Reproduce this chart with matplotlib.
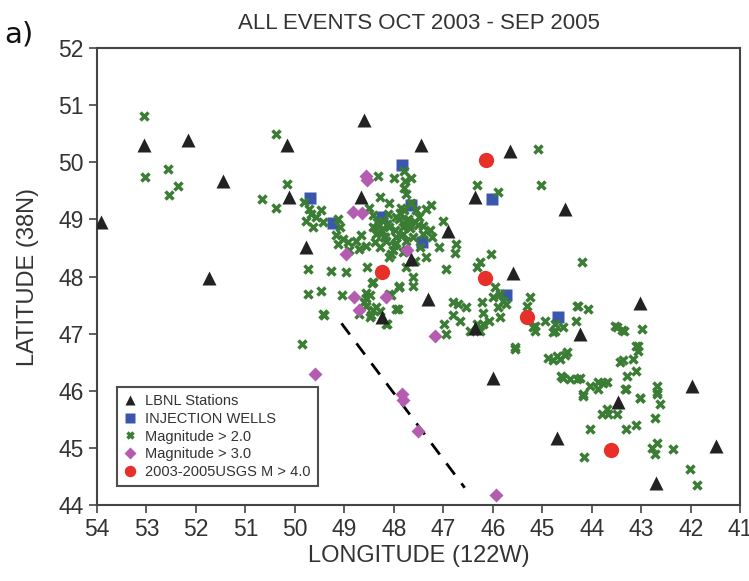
import matplotlib
matplotlib.use('Agg')
import matplotlib.pyplot as plt

plt.rcParams['font.family'] = ['Liberation Sans', 'DejaVu Sans']

# LBNL stations (lon 122W, lat 38N)
sta_lon = [53.92, 53.05, 52.16, 51.45, 51.73, 50.17, 50.13, 49.78, 48.6, 48.66, 48.24,
           47.46, 47.65, 46.9, 45.66, 46.37, 44.55, 45.6, 47.32, 43.03, 44.24, 46.37,
           46.0, 43.47, 41.98, 41.49, 44.71, 42.7]
sta_lat = [48.95, 50.3, 50.4, 49.67, 47.97, 50.31, 49.39, 48.51, 50.75, 49.4, 47.29,
           50.3, 48.3, 48.8, 50.2, 49.39, 49.19, 48.06, 47.61, 47.53, 47.0, 47.1,
           46.23, 45.8, 46.09, 45.04, 45.18, 44.39]

# injection wells
well_lon = [49.69, 49.24, 47.83, 47.66, 48.24, 46.01, 47.43, 45.74, 44.69]
well_lat = [49.37, 48.93, 49.96, 49.25, 49.04, 49.36, 48.6, 47.67, 47.3]

# magnitude > 2.0
m2_lon = [53.06, 53.03, 52.56, 52.37, 52.54, 50.38, 50.16, 50.67, 50.38,
          49.74, 49.28, 48.97, 48.54, 49.74, 49.47, 49.05, 49.42, 49.86,
          48.44, 48.56, 48.6, 48.36, 48.06, 47.92, 47.89, 48.14, 48.46,
          49.81, 49.71, 49.47, 49.78, 49.57, 49.64, 49.44, 49.67,
          49.14, 49.10, 49.17, 49.03, 48.93, 48.76, 48.66, 48.70, 48.56, 48.90, 49.14,
          48.33, 47.99, 47.80, 47.78, 47.80, 47.75, 47.65,
          48.29, 48.09, 48.43, 48.22, 47.95, 48.09, 47.82, 48.36, 48.16, 47.95, 47.75,
          48.29, 48.02, 47.82, 48.09, 48.43, 48.39,
          47.79, 47.75, 47.58, 47.82, 47.62, 47.41, 47.48, 47.35, 47.58, 47.75, 47.28,
          47.41, 47.65, 47.55, 47.25, 47.35,
          48.5, 48.12, 47.9, 48.3, 48.0, 47.7, 48.2, 47.5, 48.05, 47.85,
          48.25, 48.15, 47.98, 47.88, 47.68, 47.52, 48.35, 47.95, 47.72, 48.18,
          45.09, 45.02, 44.21, 46.33, 45.9,
          46.74, 46.77, 47.08, 46.94, 47.23, 47.01, 46.03, 46.27, 46.33,
          45.96, 45.86, 45.79, 45.9, 45.73, 46.0,
          45.26, 45.32, 44.95, 45.15, 45.15, 44.31, 44.07, 44.32, 44.75, 44.58, 44.75,
          43.53, 43.4, 42.99, 43.06, 45.56,
          46.81, 46.71, 46.54, 46.81, 46.67, 46.23, 46.2, 46.33, 46.2, 46.07, 45.86,
          46.27, 46.98, 46.94, 46.47,
          47.75, 47.62, 47.62, 47.89,
          44.28, 45.19, 44.78, 43.5, 43.36, 43.1, 43.06, 43.16, 43.37, 43.43, 43.1,
          43.3, 43.33, 44.88, 44.78, 44.65, 44.51, 44.58, 44.45, 44.24, 44.04, 43.87,
          43.69, 43.87, 44.18, 42.69, 42.69, 43.03,
          44.18, 43.31, 43.03, 42.69, 42.62, 43.8, 43.67, 43.5, 43.7, 42.72, 44.03,
          43.31, 43.11, 42.69, 42.79, 42.72, 42.37, 44.16, 42.02, 41.88,
          45.56, 44.7, 44.55, 44.63, 44.3, 43.77,
          48.43, 48.56, 48.49, 48.09, 47.89, 48.56, 48.43, 48.29, 47.95, 48.7, 48.49,
          48.16, 49.44]
m2_lat = [50.81, 49.75, 49.88, 49.58, 49.43, 50.5, 49.63, 49.36, 49.2,
          48.13, 48.1, 48.08, 48.16, 47.7, 47.75, 47.67, 47.33, 46.82,
          47.88, 47.72, 47.55, 47.46, 47.68, 47.43, 47.81, 47.17, 47.32,
          49.30, 49.19, 49.16, 48.98, 49.04, 48.86, 48.95, 49.10,
          49.01, 48.86, 48.72, 48.66, 48.60, 48.63, 48.72, 48.49, 48.54, 48.46, 48.57,
          49.77, 49.72, 49.85, 49.68, 49.55, 49.45, 49.72,
          49.39, 49.28, 49.07, 48.98, 49.04, 48.86, 48.86, 48.75, 48.63, 48.69, 48.63,
          48.51, 48.46, 48.43, 48.34, 48.86, 48.6,
          49.16, 48.98, 48.95, 48.75, 48.69, 48.75, 48.51, 48.34, 48.28, 48.46, 48.81,
          48.89, 49.28, 49.16, 49.25, 49.19,
          49.2, 49.1, 49.0, 48.9, 48.55, 48.9, 48.7, 49.05, 48.4, 49.2,
          48.8, 48.92, 48.82, 49.12, 48.85, 48.9, 48.95, 48.58, 49.0, 48.7,
          50.24, 49.6, 48.25, 49.6, 49.48,
          48.57, 48.41, 48.51, 48.13, 48.69, 48.98, 48.4, 48.25, 48.16,
          47.81, 47.7, 47.58, 47.46, 47.52, 47.64,
          47.64, 47.49, 47.23, 47.14, 47.05, 47.49, 47.43, 47.23, 47.17, 47.11, 47.05,
          47.14, 47.07, 47.08, 46.79, 46.76,
          47.55, 47.52, 47.46, 47.32, 47.23, 47.55, 47.37, 47.17, 47.17, 47.23, 47.29,
          47.05, 47.17, 47.0, 47.05,
          48.16, 47.99, 47.84, 47.84,
          47.49, 47.11, 47.02, 47.11, 47.05, 46.79, 46.7, 46.56, 46.53, 46.5, 46.35,
          46.26, 46.03, 46.58, 46.53, 46.56, 46.67, 46.23, 46.2, 46.23, 46.09, 46.15,
          46.15, 46.03, 45.94, 46.09, 45.97, 45.88,
          45.91, 46.03, 45.87, 45.94, 45.77, 45.59, 45.59, 45.59, 45.68, 45.53, 45.33,
          45.33, 45.4, 45.09, 45.0, 44.89, 44.98, 44.84, 44.63, 44.35,
          46.73, 46.6, 46.62, 46.26, 46.2, 46.14,
          47.9, 47.62, 47.68, 47.7, 47.81, 47.48, 47.41, 47.4, 47.43, 47.35, 47.29,
          47.17, 47.35]

# magnitude > 3.0
m3_lon = [48.57, 48.55, 48.82, 48.64, 48.97, 47.74, 48.8, 48.17, 48.71, 47.18,
          49.6, 47.83, 47.81, 47.52, 45.93]
m3_lat = [49.76, 49.7, 49.13, 49.11, 48.4, 48.47, 47.65, 47.65, 47.42, 46.96,
          46.29, 45.95, 45.84, 45.3, 44.18]

# USGS M > 4.0
m4_lon = [48.24, 46.13, 46.17, 45.32, 43.62]
m4_lat = [48.08, 50.04, 47.97, 47.3, 44.96]

# dashed line end points
line_lon = [49.06, 46.57]
line_lat = [47.18, 44.3]

txt = '#333333'
fig = plt.figure(figsize=(7.49, 5.81), dpi=100)
ax = fig.add_axes([0.1295, 0.131, 0.859, 0.786])

ax.plot(line_lon, line_lat, color='black', lw=2, dashes=(5, 4), zorder=1)
ax.plot(well_lon, well_lat, 's', color='#3a57ad', ms=9, mec='none', zorder=2,
        label='INJECTION WELLS')
ax.plot(m2_lon, m2_lat, 'x', color='#3b7d34', ms=6, mew=2.5, zorder=3,
        label='Magnitude > 2.0')
ax.plot(sta_lon, sta_lat, '^', color='#222222', ms=10, mec='none', zorder=4,
        label='LBNL Stations')
ax.plot(m3_lon, m3_lat, 'D', color='#b45db0', ms=7.5, mec='none', zorder=5,
        label='Magnitude > 3.0')
ax.plot(m4_lon, m4_lat, 'o', color='#e8302a', ms=11, mec='none', zorder=6,
        label='2003-2005USGS M > 4.0')

ax.set_xlim(54, 41)
ax.set_ylim(44, 52)
ax.set_xticks(range(54, 40, -1))
ax.set_yticks(range(44, 53))
ax.tick_params(direction='out', length=6, width=1.2, labelsize=16.5,
               colors='#444444', labelcolor=txt)
for s in ax.spines.values():
    s.set_linewidth(1.5)
    s.set_color('#444444')

ax.set_xlabel('LONGITUDE (122W)', fontsize=17, color=txt, labelpad=3)
ax.set_ylabel('LATITUDE (38N)', fontsize=17, color=txt, labelpad=14)
ax.set_title('ALL EVENTS OCT 2003 - SEP 2005', fontsize=16, color=txt, pad=14)
fig.text(0.006, 0.94, 'a)', fontsize=21, color='#111111', family='DejaVu Sans',
         va='center')

h, l = ax.get_legend_handles_labels()
order = [2, 0, 1, 3, 4]
leg = ax.legend([h[i] for i in order], [l[i] for i in order], loc='lower left',
                bbox_to_anchor=(0.02, 0.025), fontsize=10.5, frameon=True,
                fancybox=False, edgecolor='#222222', markerscale=0.75,
                handlelength=0.8, handletextpad=0.6, labelspacing=0.25,
                borderpad=0.5, labelcolor=txt)
leg.get_frame().set_linewidth(1.5)

plt.savefig('out.png', dpi=100)
